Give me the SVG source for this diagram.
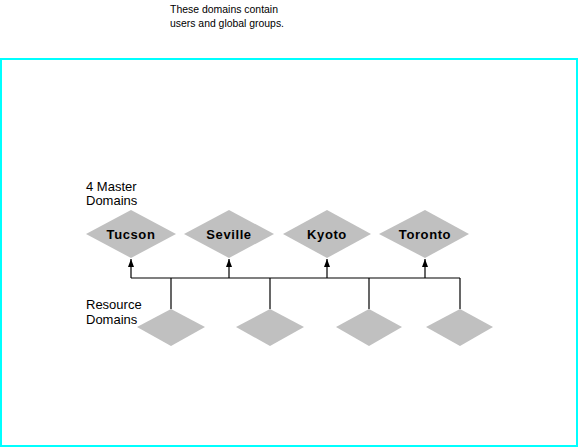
<svg xmlns="http://www.w3.org/2000/svg" width="578" height="447" viewBox="0 0 578 447">
<style>
.frame{fill:none;stroke:#00ffff;stroke-width:2}
.dia{fill:#c0c0c0;stroke:none}
.lbl{font-family:"Liberation Sans",Arial,sans-serif;font-size:13px;fill:#000}
.name{font-family:"Liberation Sans",Arial,sans-serif;font-size:13px;font-weight:bold;fill:#000;text-anchor:middle;letter-spacing:0.6px}
.note{font-family:"Liberation Sans",Arial,sans-serif;font-size:11px;fill:#000}
.wire{fill:none;stroke:#000;stroke-width:1.2}
</style>
<defs>
<marker id="ah" markerWidth="8" markerHeight="6" refX="8" refY="3" orient="auto" markerUnits="userSpaceOnUse" viewBox="0 0 8 6">
<path d="M0,0 L8,3 L0,6 Z" fill="#000"/>
</marker>
</defs>
<rect class="frame" x="1" y="59" width="576" height="387"/>
<text class="note" x="170" y="13" textLength="108" lengthAdjust="spacingAndGlyphs">These domains contain</text>
<text class="note" x="170" y="27" textLength="114" lengthAdjust="spacingAndGlyphs">users and global groups.</text>
<text class="lbl" x="86" y="191">4 Master</text>
<text class="lbl" x="86" y="205">Domains</text>
<text class="lbl" x="86" y="309">Resource</text>
<text class="lbl" x="86" y="324">Domains</text>
<g id="connectors">
<path class="wire" d="M131,278 H460"/>
<path class="wire" d="M131,278 V259" marker-end="url(#ah)"/>
<path class="wire" d="M229,278 V259" marker-end="url(#ah)"/>
<path class="wire" d="M327,278 V259" marker-end="url(#ah)"/>
<path class="wire" d="M425,278 V259" marker-end="url(#ah)"/>
<path class="wire" d="M171,278 V309"/>
<path class="wire" d="M270,278 V309"/>
<path class="wire" d="M369,278 V309"/>
<path class="wire" d="M460,278 V309"/>
</g>
<g id="tucson"><polygon class="dia" points="86,234 131,210 176,234 131,258"/><text class="name" x="131" y="239">Tucson</text></g>
<g id="seville"><polygon class="dia" points="184,234 229,210 274,234 229,258"/><text class="name" x="229" y="239">Seville</text></g>
<g id="kyoto"><polygon class="dia" points="283,234 327,210 371,234 327,258"/><text class="name" x="327" y="239">Kyoto</text></g>
<g id="toronto"><polygon class="dia" points="379,234 425,210 469,234 425,258"/><text class="name" x="425" y="239">Toronto</text></g>
<g id="res1"><polygon class="dia" points="137,327 171,309 205,327 171,346"/></g>
<g id="res2"><polygon class="dia" points="236,327 270,309 304,327 270,346"/></g>
<g id="res3"><polygon class="dia" points="336,327 369,309 402,327 369,346"/></g>
<g id="res4"><polygon class="dia" points="426,327 460,309 493,327 460,346"/></g>
</svg>
